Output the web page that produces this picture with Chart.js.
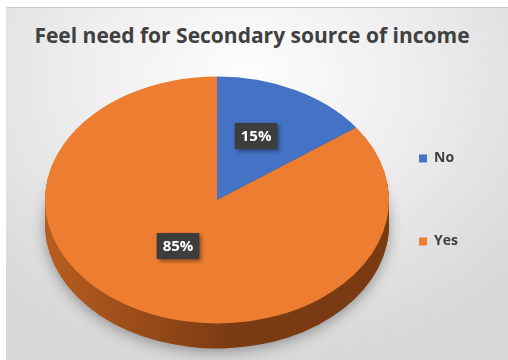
<!DOCTYPE html>
<html>
<head>
    <title>Feel need for Secondary source of income</title>
    <script src="https://cdn.jsdelivr.net/npm/chart.js"></script>
    <style>
        body {
            margin: 0;
            background: #fff;
            font-family: 'Open Sans', sans-serif;
        }

        #frame {
            position: absolute;
            left: 6px;
            top: 7px;
            width: 502px;
            height: 353px;
            border-top: 1px solid #c8c8c8;
            background: radial-gradient(ellipse 70% 80% at 48% 20%, #fdfdfd 0%, #efefef 45%, #d8d8d8 100%);
        }

        #chartTitle {
            position: absolute;
            left: 0;
            top: 22px;
            width: 504px;
            text-align: center;
            font-size: 21px;
            line-height: 26px;
            font-weight: bold;
            color: #404040;
            white-space: nowrap;
        }

        #pieChart {
            position: absolute;
            left: 0;
            top: 0;
        }
    </style>
</head>
<body>
<div id="frame"></div>
<div id="chartTitle"></div>
<canvas id="pieChart" width="508" height="360"></canvas>
<script>
    const chartTitle = 'Feel need for Secondary source of income';
    const categories = ['No', 'Yes'];
    const values = [15, 85];
    const sliceColors = ['#4472C4', '#ED7D31'];
    const sideColors = [['#2f5597', '#22407a'], ['#b85d1f', '#7a3a12']];

    document.getElementById('chartTitle').textContent = chartTitle;

    // fake 3D: draw the side of each slice, then squash the top surface
    const pie3d = {
        id: 'pie3d',
        beforeDatasetsDraw(chart, args, opts) {
            const ctx = chart.ctx;
            const arcs = chart.getDatasetMeta(0).data;
            const {x, y, outerRadius} = arcs[0];
            const k = opts.tilt;

            for (let d = opts.depth; d >= 1; d--) {
                arcs.forEach((arc, i) => {
                    ctx.save();
                    if (d === opts.depth) {
                        ctx.shadowColor = 'rgba(0,0,0,0.35)';
                        ctx.shadowBlur = 14;
                        ctx.shadowOffsetY = 3;
                    }
                    ctx.translate(x, y + d);
                    ctx.scale(1, k);
                    const grad = ctx.createLinearGradient(-outerRadius, 0, outerRadius, 0);
                    grad.addColorStop(0, sideColors[i][0]);
                    grad.addColorStop(0.55, sideColors[i][1]);
                    grad.addColorStop(1, sideColors[i][1]);
                    ctx.beginPath();
                    ctx.moveTo(0, 0);
                    ctx.arc(0, 0, outerRadius, arc.startAngle, arc.endAngle);
                    ctx.closePath();
                    ctx.fillStyle = grad;
                    ctx.fill();
                    ctx.restore();
                });
            }

            ctx.save();
            ctx.translate(x, y);
            ctx.scale(1, k);
            ctx.translate(-x, -y);
        },
        afterDatasetsDraw(chart, args, opts) {
            const ctx = chart.ctx;
            ctx.restore();

            const arcs = chart.getDatasetMeta(0).data;
            const cy = arcs[0].y;
            const total = values.reduce((a, b) => a + b, 0);

            arcs.forEach((arc, i) => {
                const p = arc.tooltipPosition();
                const lx = p.x;
                const ly = cy + (p.y - cy) * opts.tilt + opts.labelShift;
                const text = Math.round(values[i] / total * 100) + '%';

                ctx.save();
                ctx.font = 'bold 15px "Open Sans"';
                const w = ctx.measureText(text).width + 12;
                const h = 26;
                ctx.shadowColor = 'rgba(0,0,0,0.45)';
                ctx.shadowBlur = 4;
                ctx.shadowOffsetX = 2;
                ctx.shadowOffsetY = 2;
                ctx.fillStyle = '#3d3d3d';
                ctx.fillRect(lx - w / 2, ly - h / 2, w, h);
                ctx.shadowColor = 'transparent';
                ctx.fillStyle = '#ffffff';
                ctx.textAlign = 'center';
                ctx.textBaseline = 'middle';
                ctx.fillText(text, lx, ly + 1);
                ctx.restore();
            });
        }
    };

    const ctx = document.getElementById('pieChart').getContext('2d');

    const pieChart = new Chart(ctx, {
        type: 'pie',
        data: {
            labels: categories,
            datasets: [{
                data: values,
                backgroundColor: sliceColors,
                borderWidth: 0,
                radius: 172,
                clip: false
            }]
        },
        plugins: [pie3d],
        options: {
            responsive: false,
            animation: false,
            events: [],
            layout: {
                padding: {left: 84, right: 40, top: 57, bottom: 17}
            },
            plugins: {
                pie3d: {tilt: 0.718, depth: 25, labelShift: -9},
                tooltip: {enabled: false},
                title: {display: false},
                legend: {
                    position: 'right',
                    fullSize: false,
                    labels: {
                        boxWidth: 8,
                        boxHeight: 8,
                        padding: 69,
                        color: '#404040',
                        font: {family: 'Open Sans', size: 14, weight: 'bold'}
                    }
                }
            }
        }
    });
</script>
</body>
</html>
